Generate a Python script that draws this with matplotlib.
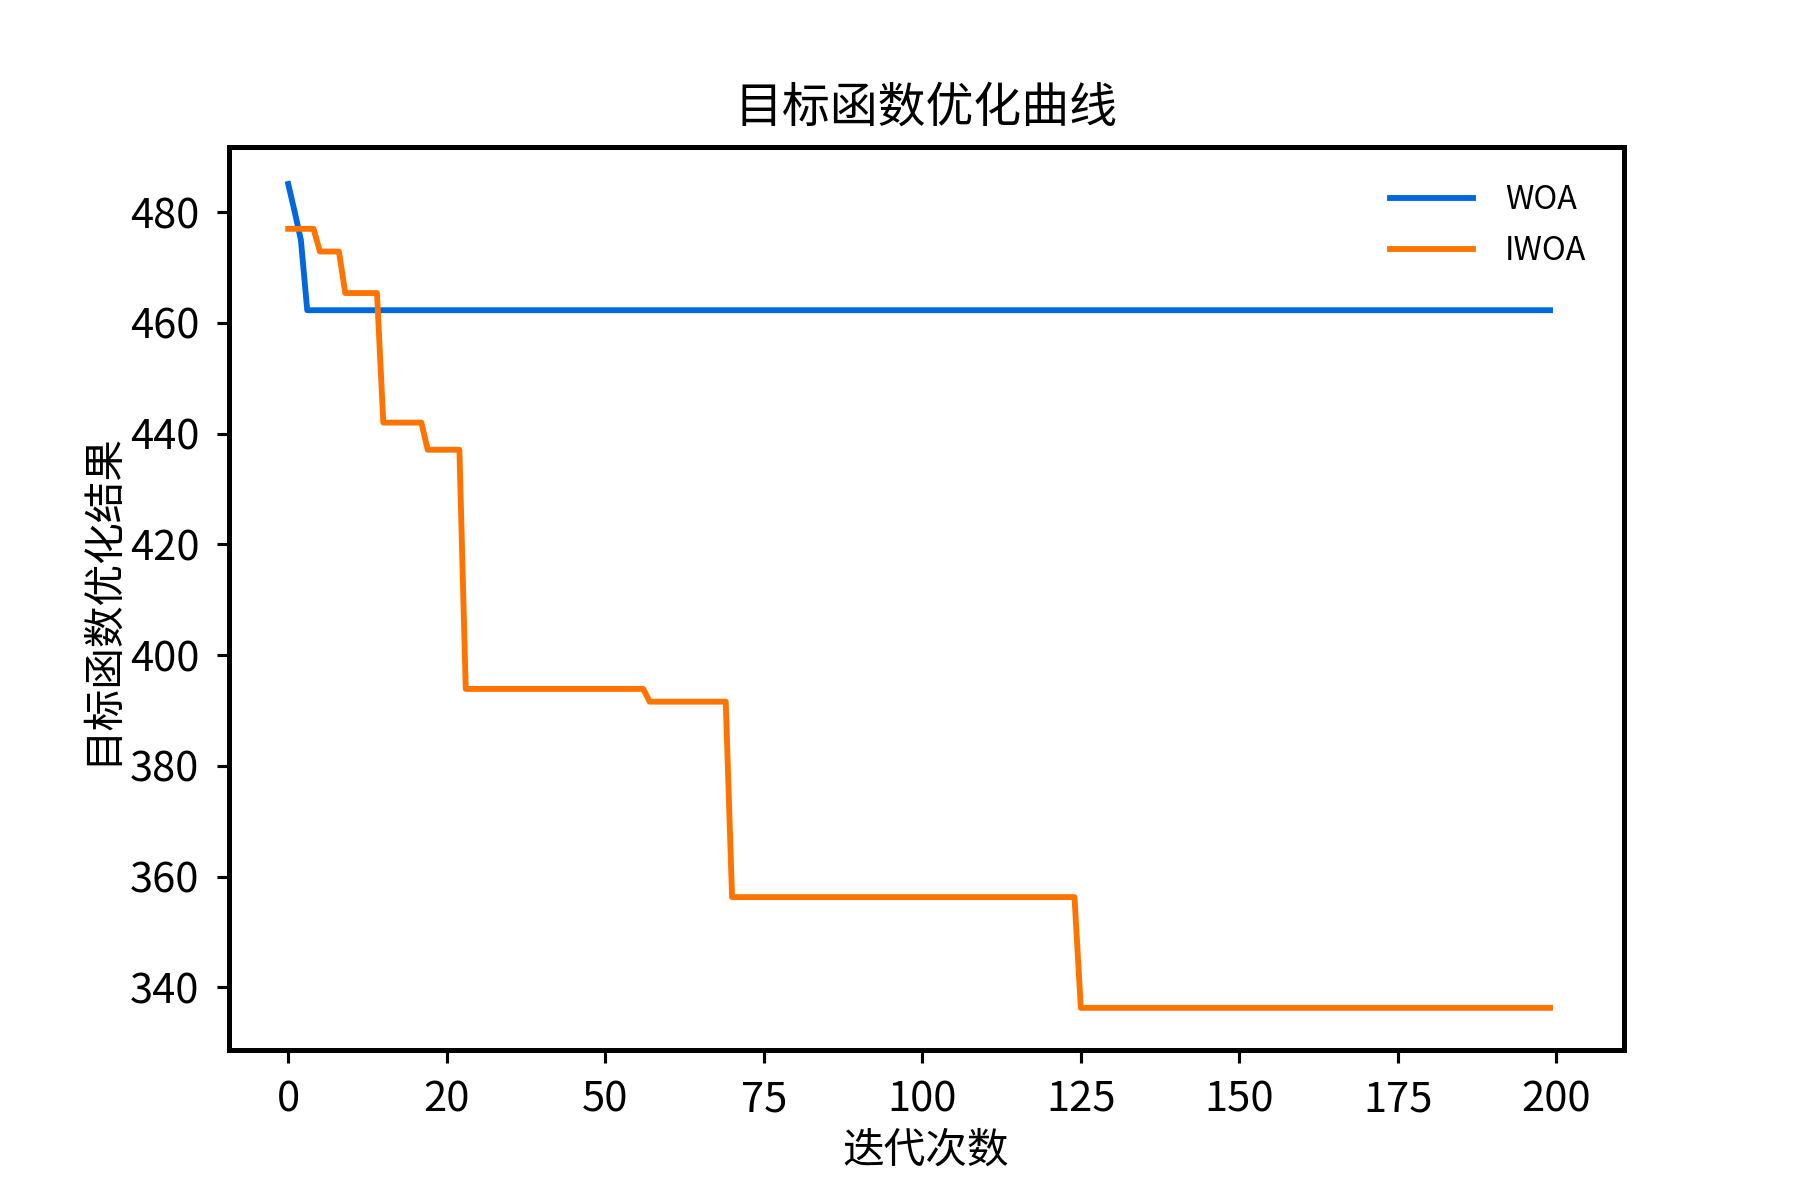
import numpy as np
import matplotlib
matplotlib.use('Agg')
import matplotlib.pyplot as plt

plt.rcParams['font.family'] = ['Noto Sans CJK SC', 'DejaVu Sans']
plt.rcParams['axes.unicode_minus'] = False

n_iter = 200
iters = np.arange(n_iter)

# WOA: first few iterations, then flat
woa_head = [485.1, 480.2, 475.0]
woa_final = 462.3

# IWOA: step levels and the iteration where each level starts
iwoa_levels = [477.0, 472.9, 465.4, 442.0, 437.1, 393.9, 391.6, 356.3, 336.3]
iwoa_starts = [0, 5, 9, 15, 22, 28, 57, 70, 125]

woa = np.array(woa_head + [woa_final] * (n_iter - len(woa_head)))
counts = np.diff(iwoa_starts + [n_iter])
iwoa = np.repeat(iwoa_levels, counts)

xticks = [0, 25, 50, 75, 100, 125, 150, 175, 200]
xtick_labels = ['0', '20', '50', '75', '100', '125', '150', '175', '200']
yticks = [340, 360, 380, 400, 420, 440, 460, 480]

fig = plt.figure(figsize=(12, 8), dpi=150)
ax = fig.add_axes([0.127, 0.1246, 0.775, 0.753])
ax.plot(iters, woa, color='#0068dc', lw=2.8, label='WOA')
ax.plot(iters, iwoa, color='#ff7300', lw=2.8, label='IWOA')

ax.set_xlim(-9.4, 210.6)
ax.set_ylim(328.6, 491.8)
ax.set_xticks(xticks)
ax.set_xticklabels(xtick_labels)
ax.set_yticks(yticks)
ax.tick_params(labelsize=20, length=6, width=1.5, pad=8)
for s in ax.spines.values():
    s.set_linewidth(2.4)

ax.set_title('目标函数优化曲线', fontsize=23, pad=12)
ax.set_xlabel('迭代次数', fontsize=20, labelpad=5)
ax.set_ylabel('目标函数优化结果', fontsize=20)
ax.legend(loc='upper right', frameon=False, fontsize=15.5, handlelength=2.55,
          handletextpad=1.0, labelspacing=0.6, borderaxespad=0.75)

plt.savefig('out.png', dpi=150)
